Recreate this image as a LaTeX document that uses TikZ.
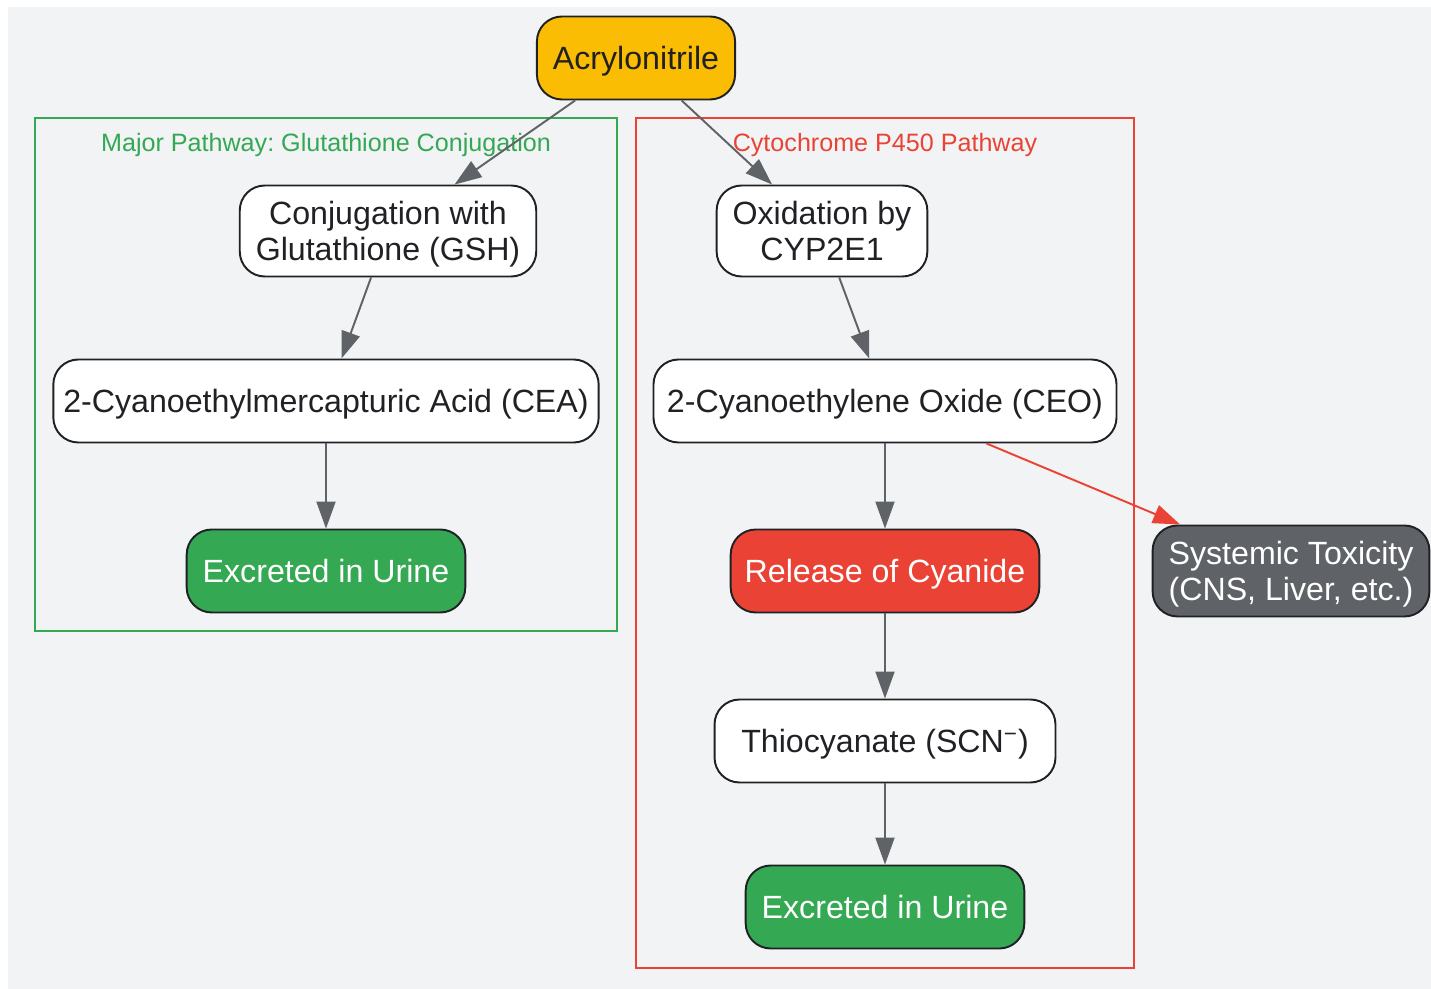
\documentclass[tikz,border=0pt]{standalone}
\usepackage{fontspec}
\setmainfont{Liberation Sans}
\frenchspacing
\usetikzlibrary{arrows.meta, positioning}
\definecolor{bggrey}{HTML}{F1F3F4}
\definecolor{inkblack}{HTML}{202124}
\definecolor{edgegrey}{HTML}{5F6368}
\definecolor{gshgreen}{HTML}{34A853}
\definecolor{cypred}{HTML}{EA4335}
\definecolor{acryellow}{HTML}{FBBC04}
\definecolor{toxgrey}{HTML}{5F6368}

\tikzset{
  chem/.style={draw=inkblack, line width=1.1pt, rounded corners=0.5cm, fill=white, text=inkblack,
    font=\fontsize{18.3}{20.5}\selectfont, align=center, inner xsep=0.32cm, inner ysep=0pt,
    minimum height=1.66cm, text depth=-0.25em},
  twoline/.style={minimum height=1.82cm},
  flow/.style={draw=edgegrey, line width=1.1pt, -{Triangle[length=0.54cm,width=0.38cm]}},
  cluster/.style={line width=1.1pt},
  clusterlbl/.style={font=\fontsize{14.3}{16}\selectfont, inner sep=0pt}
}

\begin{document}
\begin{tikzpicture}[x=0.02cm, y=-0.02cm]
\useasboundingbox (0,0) rectangle (1431,989);
\fill[bggrey] (8,7) rectangle (1431,989);

% clusters
\draw[cluster, draw=gshgreen] (35,118) rectangle (617,631);
\node[clusterlbl, text=gshgreen] (majlbl) at (326,145) {Major Pathway: Glutathione Conjugation};
\draw[cluster, draw=cypred] (636,118) rectangle (1134,968);
\node[clusterlbl, text=cypred] (cyplbl) at (885,145) {Cytochrome P450 Pathway};

% parent compound
\node[chem, fill=acryellow] (acr) at (636,58) {Acrylonitrile};

% glutathione side
\node[chem, twoline] (conj) at (388,231) {Conjugation with\\Glutathione (GSH)};
\node[chem, inner xsep=0.2cm] (cea) at (326,401) {2-Cyanoethylmercapturic Acid (CEA)};
\node[chem, fill=gshgreen, text=white] (urineA) at (326,571) {Excreted in Urine};

% P450 side
\node[chem, twoline] (oxid) at (822,231) {Oxidation by\\CYP2E1};
\node[chem, inner xsep=0.27cm] (ceo) at (885,401) {2-Cyanoethylene Oxide (CEO)};
\node[chem, inner xsep=0.28cm, fill=cypred, text=white] (cyan) at (885,571) {Release of Cyanide};
\node[chem, minimum width=6.82cm] (scn) at (885,741) {Thiocyanate (SCN\textsuperscript{−})};
\node[chem, fill=gshgreen, text=white] (urineB) at (885,907) {Excreted in Urine};

% toxicity
\node[chem, twoline, fill=toxgrey, text=white] (tox) at (1291,571) {Systemic Toxicity\\(CNS, Liver, etc.)};

% edges
\draw[flow] (acr) -- (conj);
\draw[flow] (acr) -- (oxid);
\draw[flow] (conj) -- (cea);
\draw[flow] (cea) -- (urineA);
\draw[flow] (oxid) -- (ceo);
\draw[flow] (ceo) -- (cyan);
\draw[flow] (cyan) -- (scn);
\draw[flow] (scn) -- (urineB);
\draw[flow, draw=cypred, fill=cypred] (ceo) -- (tox);
\end{tikzpicture}
\end{document}
